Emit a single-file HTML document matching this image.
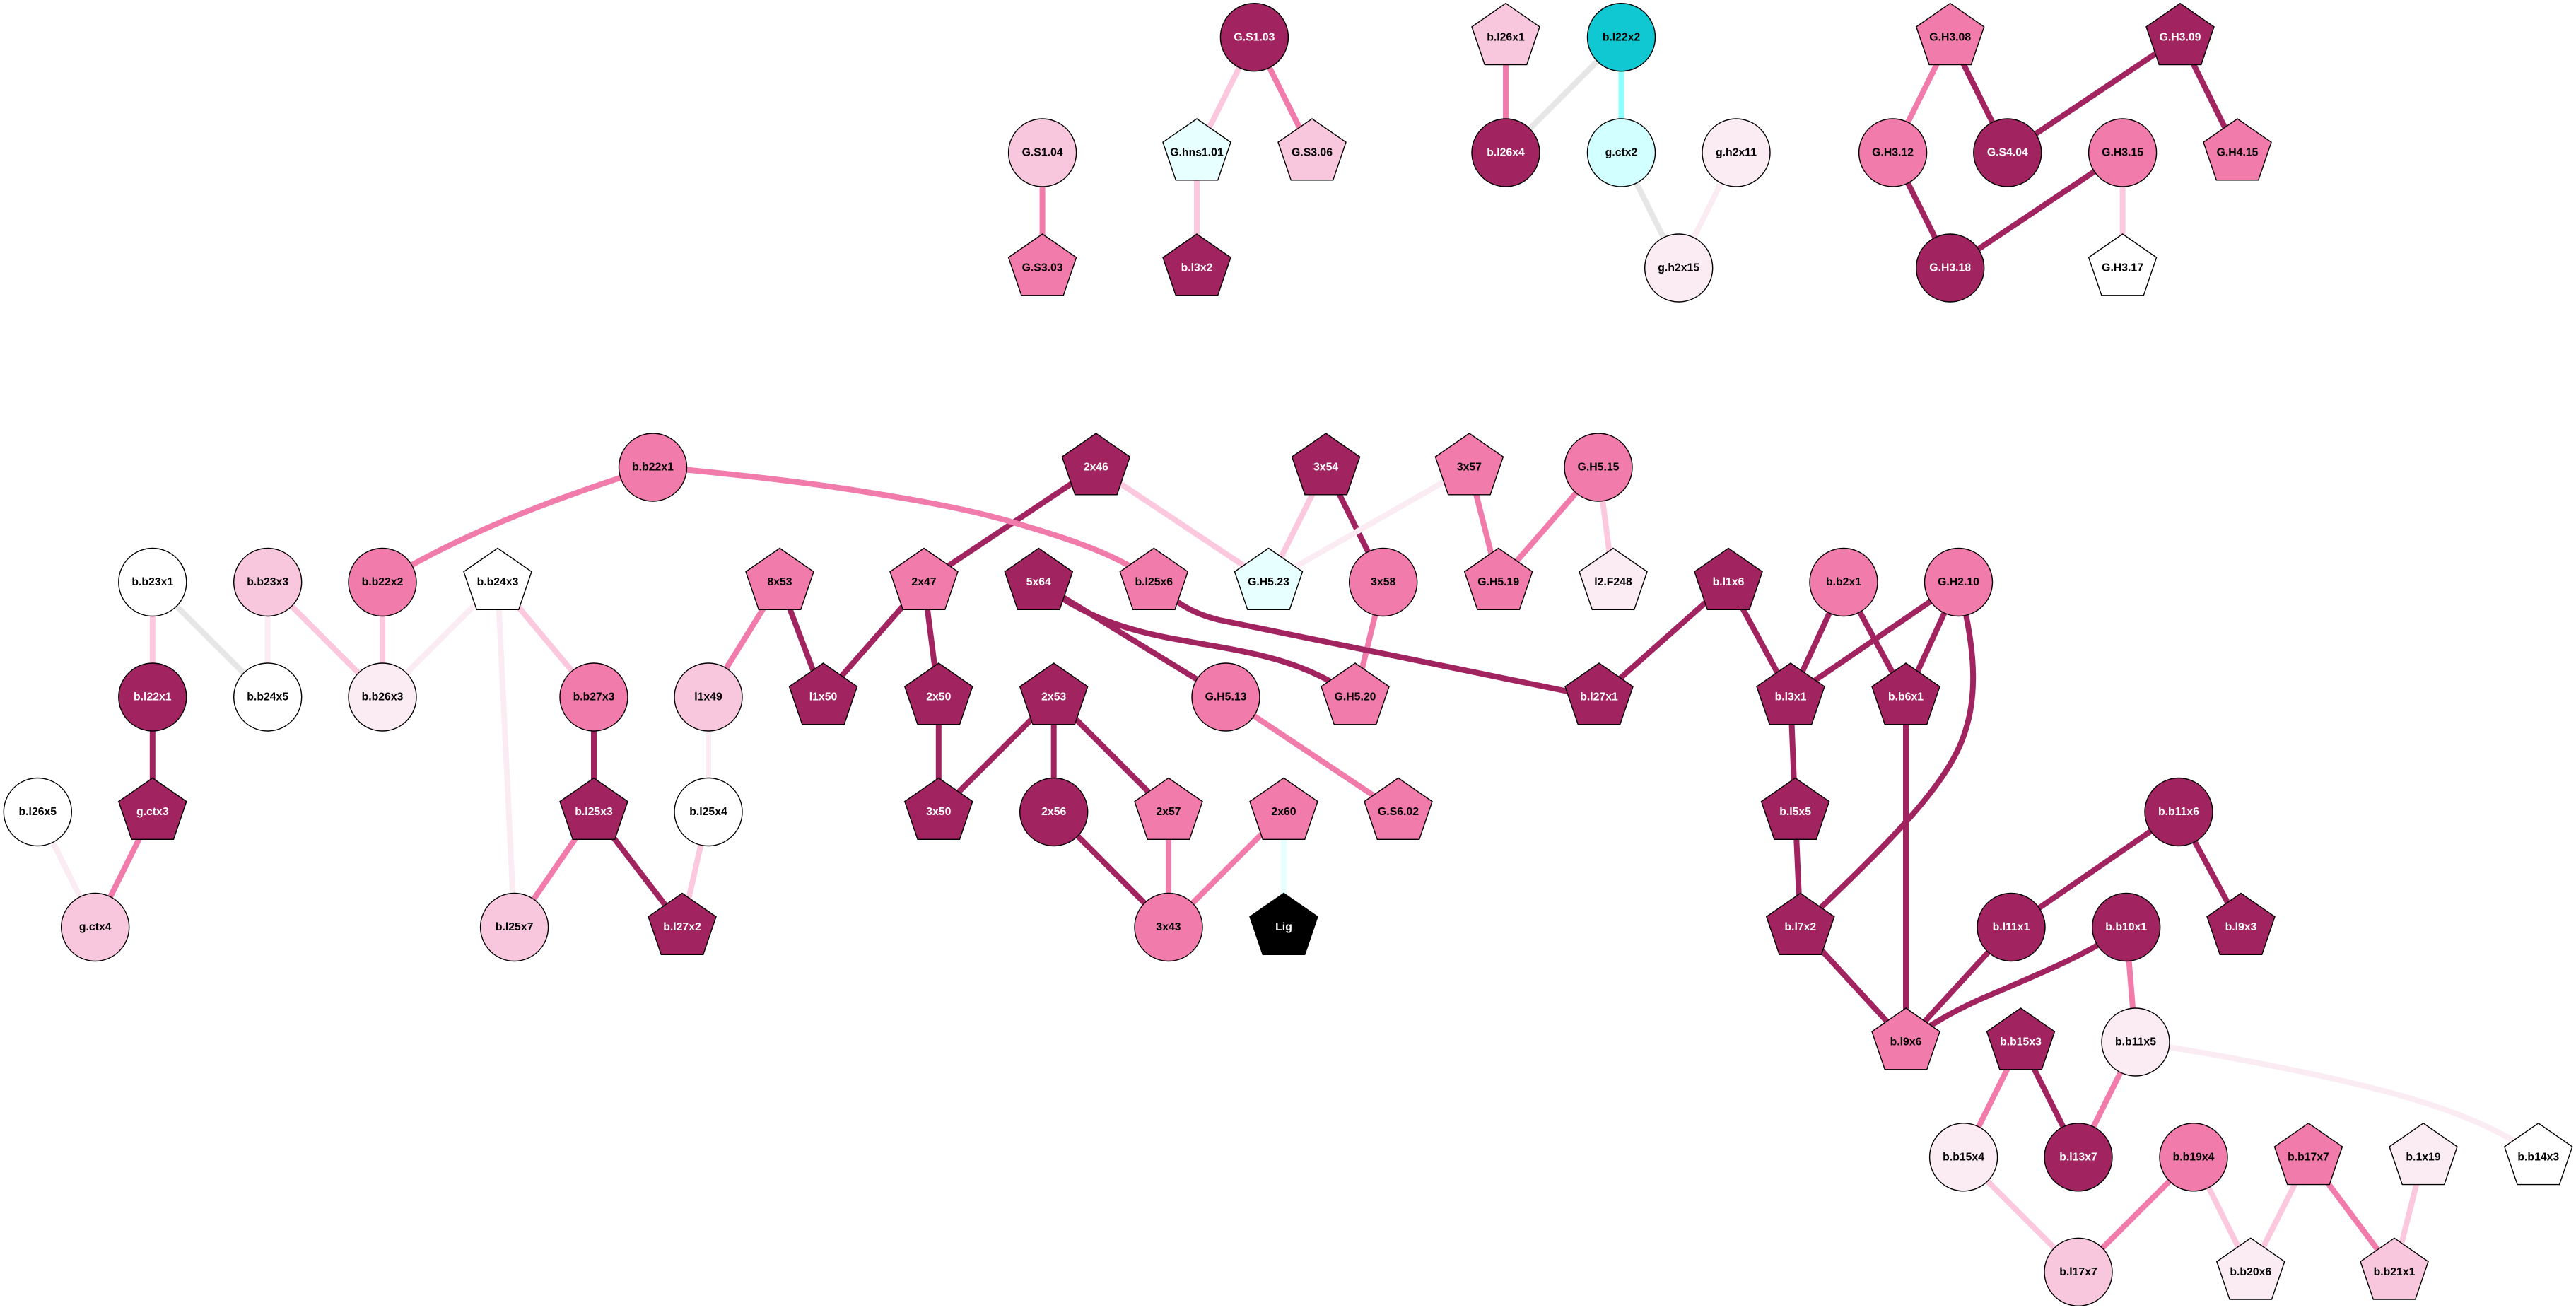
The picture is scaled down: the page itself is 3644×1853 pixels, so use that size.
<!DOCTYPE html>
<html><head><meta charset="utf-8"><style>
html,body{margin:0;padding:0;background:#fff}
svg{display:block}
path,line{fill:none;stroke-width:8}
.eD{stroke:#a12460}.eP{stroke:#f17bab}.eL{stroke:#fbc8de}.eV{stroke:#fbebf3}.eG{stroke:#e6e6e6}.eC{stroke:#8cffff}.eI{stroke:#e8ffff}
.n{stroke:#000;stroke-width:1.4}
.D{fill:#a12460}.P{fill:#f17bab}.L{fill:#f9c7dd}.V{fill:#fbebf3}.W{fill:#fff}.I{fill:#e8ffff}.C{fill:#d2ffff}.T{fill:#0fc8d2}.K{fill:#000}
text{font-family:"Liberation Sans",sans-serif;font-weight:bold;font-size:15.8px;text-anchor:middle;fill:#000}
text.w{fill:#fff}
</style></head><body>
<svg xmlns="http://www.w3.org/2000/svg" width="3644" height="1853" viewBox="0 0 3644 1853">
<defs>
<polygon id="p" points="0,-48 48,-14.8 29.7,38.8 -29.7,38.8 -48,-14.8"/>
</defs>
<rect width="3644" height="1853" fill="#fff"/>
<g>
<!-- top groups -->
<line class="eL" x1="1774.4" y1="52.7" x2="1693" y2="216"/>
<line class="eP" x1="1774.4" y1="52.7" x2="1856" y2="216"/>
<line class="eP" x1="1474.6" y1="216" x2="1474.6" y2="379"/>
<line class="eL" x1="1693" y1="216" x2="1693" y2="379"/>
<line class="eP" x1="2130" y1="52.7" x2="2130" y2="216"/>
<line class="eG" x1="2293.5" y1="52.7" x2="2130" y2="216"/>
<line class="eC" x1="2293.5" y1="52.7" x2="2293.5" y2="216"/>
<line class="eG" x1="2293.5" y1="216" x2="2374.7" y2="379"/>
<line class="eV" x1="2456" y1="216" x2="2374.7" y2="379"/>
<line class="eP" x1="2758.7" y1="52.7" x2="2677.6" y2="216"/>
<line class="eD" x1="2758.7" y1="52.7" x2="2839.8" y2="216"/>
<line class="eD" x1="3084" y1="52.7" x2="2839.8" y2="216"/>
<line class="eD" x1="3084" y1="52.7" x2="3165" y2="216"/>
<line class="eD" x1="2677.6" y1="216" x2="2758.7" y2="379"/>
<line class="eD" x1="3002.6" y1="216" x2="2758.7" y2="379"/>
<line class="eL" x1="3002.6" y1="216" x2="3002.6" y2="379"/>
<!-- left lower -->
<line class="eL" x1="215.8" y1="823.5" x2="215.8" y2="986"/>
<line class="eG" x1="215.8" y1="823.5" x2="378.7" y2="986"/>
<line class="eV" x1="378.7" y1="823.5" x2="378.7" y2="986"/>
<line class="eL" x1="378.7" y1="823.5" x2="541" y2="986"/>
<line class="eL" x1="541" y1="823.5" x2="541" y2="986"/>
<line class="eV" x1="704" y1="823.5" x2="541" y2="986"/>
<line class="eL" x1="704" y1="823.5" x2="840" y2="986"/>
<line class="eV" x1="704" y1="823.5" x2="727.6" y2="1311.5"/>
<line class="eD" x1="215.8" y1="986" x2="215.8" y2="1148.5"/>
<line class="eV" x1="53.3" y1="1148.5" x2="134.7" y2="1311.5"/>
<line class="eP" x1="215.8" y1="1148.5" x2="134.7" y2="1311.5"/>
<line class="eD" x1="840" y1="986" x2="840" y2="1148.5"/>
<line class="eP" x1="840" y1="1148.5" x2="727.6" y2="1311.5"/>
<line class="eD" x1="840" y1="1148.5" x2="965" y2="1311.5"/>
<line class="eL" x1="1002" y1="1148.5" x2="965" y2="1311.5"/>
<line class="eV" x1="1002" y1="986" x2="1002" y2="1148.5"/>
<line class="eP" x1="1103" y1="823.5" x2="1002" y2="986"/>
<line class="eD" x1="1103" y1="823.5" x2="1164.5" y2="986"/>
<line class="eD" x1="1307" y1="823.5" x2="1164.5" y2="986"/>
<line class="eD" x1="1550.4" y1="661" x2="1307" y2="823.5"/>
<line class="eL" x1="1550.4" y1="661" x2="1794.5" y2="823.5"/>
<line class="eD" x1="1307" y1="823.5" x2="1327.8" y2="986"/>
<line class="eD" x1="1327.8" y1="986" x2="1327.8" y2="1148.5"/>
<line class="eD" x1="1490.7" y1="986" x2="1327.8" y2="1148.5"/>
<line class="eD" x1="1490.7" y1="986" x2="1490.7" y2="1148.5"/>
<line class="eD" x1="1490.7" y1="986" x2="1653" y2="1148.5"/>
<line class="eD" x1="1490.7" y1="1148.5" x2="1653" y2="1311.5"/>
<line class="eP" x1="1653" y1="1148.5" x2="1653" y2="1311.5"/>
<line class="eP" x1="1816" y1="1148.5" x2="1653" y2="1311.5"/>
<line class="eI" x1="1816" y1="1148.5" x2="1816" y2="1311.5"/>
<line class="eP" x1="1734" y1="986" x2="1978" y2="1148.5"/>
<line class="eD" x1="1469.3" y1="823.5" x2="1734" y2="986"/>
<line class="eL" x1="1875.6" y1="661" x2="1794.5" y2="823.5"/>
<line class="eD" x1="1875.6" y1="661" x2="1956.7" y2="823.5"/>
<line class="eV" x1="2078.4" y1="661" x2="1794.5" y2="823.5"/>
<line class="eP" x1="2078.4" y1="661" x2="2119.7" y2="823.5"/>
<line class="eP" x1="2261" y1="661" x2="2119.7" y2="823.5"/>
<line class="eL" x1="2261" y1="661" x2="2282" y2="823.5"/>
<line class="eP" x1="1956.7" y1="823.5" x2="1917" y2="986"/>
<path class="eP" d="M923.5,661C800,700 660,750 541,823.5"/>
<path class="eP" d="M923.5,660C1010,668 1110,678 1200,692C1290,706 1370,720 1430,738C1480,753 1580,780 1632,823.5"/>
<path class="eD" d="M1632.3,823.5C1662,850 1680,866 1725,877L2262,987"/>
<path class="eD" d="M1469.3,823.5C1530,870 1590,892 1674,906C1760,922 1840,930 1917,986"/>
<!-- right lower -->
<line class="eD" x1="2445" y1="823.5" x2="2262" y2="986"/>
<line class="eD" x1="2445" y1="823.5" x2="2533" y2="986"/>
<line class="eD" x1="2608" y1="823.5" x2="2533" y2="986"/>
<line class="eD" x1="2608" y1="823.5" x2="2696" y2="986"/>
<line class="eD" x1="2770.5" y1="823.5" x2="2533" y2="986"/>
<line class="eD" x1="2770.5" y1="823.5" x2="2696" y2="986"/>
<path class="eD" d="M2770.5,823.5C2790,900 2800,970 2781,1031C2760,1105 2680,1185 2546.8,1311.5"/>
<line class="eD" x1="2533" y1="986" x2="2539.6" y2="1148.5"/>
<line class="eD" x1="2696" y1="986" x2="2696" y2="1474"/>
<line class="eD" x1="2539.6" y1="1148.5" x2="2546.8" y2="1311.5"/>
<line class="eD" x1="2546.8" y1="1311.5" x2="2696" y2="1474"/>
<line class="eD" x1="3082" y1="1148.5" x2="2845" y2="1311.5"/>
<line class="eD" x1="3082" y1="1148.5" x2="3170" y2="1311.5"/>
<line class="eD" x1="2845" y1="1311.5" x2="2696" y2="1474"/>
<path class="eD" d="M3007.7,1311.5C2950,1352 2890,1375 2800,1414C2760,1432 2730,1450 2696,1474"/>
<line class="eP" x1="3007.7" y1="1311.5" x2="3021" y2="1474"/>
<line class="eP" x1="2858.5" y1="1474" x2="2777.6" y2="1636.8"/>
<line class="eD" x1="2858.5" y1="1474" x2="2940" y2="1636.8"/>
<line class="eP" x1="3021" y1="1474" x2="2940" y2="1636.8"/>
<path class="eV" d="M3021,1474C3130,1490 3260,1515 3352,1538C3440,1560 3530,1590 3590.8,1636.8"/>
<line class="eL" x1="2777.6" y1="1636.8" x2="2940" y2="1799.3"/>
<line class="eP" x1="3103" y1="1636.8" x2="2940" y2="1799.3"/>
<line class="eL" x1="3103" y1="1636.8" x2="3183.8" y2="1799.3"/>
<line class="eL" x1="3265.5" y1="1636.8" x2="3183.8" y2="1799.3"/>
<line class="eP" x1="3265.5" y1="1636.8" x2="3387" y2="1799.3"/>
<line class="eL" x1="3428" y1="1636.8" x2="3387" y2="1799.3"/>
</g>
<g transform="translate(1774.4,52.7)"><circle r="48" class="n D"/><text class="w" y="4.7">G.S1.03</text></g>
<g transform="translate(1474.6,216)"><circle r="48" class="n L"/><text y="4.7">G.S1.04</text></g>
<g transform="translate(1693,216)"><use href="#p" class="n I"/><text y="4.7">G.hns1.01</text></g>
<g transform="translate(1856,216)"><use href="#p" class="n L"/><text y="4.7">G.S3.06</text></g>
<g transform="translate(1474.6,379)"><use href="#p" class="n P"/><text y="4.7">G.S3.03</text></g>
<g transform="translate(1693,379)"><use href="#p" class="n D"/><text class="w" y="4.7">b.l3x2</text></g>
<g transform="translate(2130,52.7)"><use href="#p" class="n L"/><text y="4.7">b.l26x1</text></g>
<g transform="translate(2293.5,52.7)"><circle r="48" class="n T"/><text y="4.7">b.l22x2</text></g>
<g transform="translate(2130,216)"><circle r="48" class="n D"/><text class="w" y="4.7">b.l26x4</text></g>
<g transform="translate(2293.5,216)"><circle r="48" class="n C"/><text y="4.7">g.ctx2</text></g>
<g transform="translate(2456,216)"><circle r="48" class="n V"/><text y="4.7">g.h2x11</text></g>
<g transform="translate(2374.7,379)"><circle r="48" class="n V"/><text y="4.7">g.h2x15</text></g>
<g transform="translate(2758.7,52.7)"><use href="#p" class="n P"/><text y="4.7">G.H3.08</text></g>
<g transform="translate(3084,52.7)"><use href="#p" class="n D"/><text class="w" y="4.7">G.H3.09</text></g>
<g transform="translate(2677.6,216)"><circle r="48" class="n P"/><text y="4.7">G.H3.12</text></g>
<g transform="translate(2839.8,216)"><circle r="48" class="n D"/><text class="w" y="4.7">G.S4.04</text></g>
<g transform="translate(3002.6,216)"><circle r="48" class="n P"/><text y="4.7">G.H3.15</text></g>
<g transform="translate(3165,216)"><use href="#p" class="n P"/><text y="4.7">G.H4.15</text></g>
<g transform="translate(2758.7,379)"><circle r="48" class="n D"/><text class="w" y="4.7">G.H3.18</text></g>
<g transform="translate(3002.6,379)"><use href="#p" class="n W"/><text y="4.7">G.H3.17</text></g>

<g transform="translate(923.5,661)"><circle r="48" class="n P"/><text y="4.7">b.b22x1</text></g>
<g transform="translate(1550.4,661)"><use href="#p" class="n D"/><text class="w" y="4.7">2x46</text></g>
<g transform="translate(1875.6,661)"><use href="#p" class="n D"/><text class="w" y="4.7">3x54</text></g>
<g transform="translate(2078.4,661)"><use href="#p" class="n P"/><text y="4.7">3x57</text></g>
<g transform="translate(2261,661)"><circle r="48" class="n P"/><text y="4.7">G.H5.15</text></g>

<g transform="translate(215.8,823.5)"><circle r="48" class="n W"/><text y="4.7">b.b23x1</text></g>
<g transform="translate(378.7,823.5)"><circle r="48" class="n L"/><text y="4.7">b.b23x3</text></g>
<g transform="translate(541,823.5)"><circle r="48" class="n P"/><text y="4.7">b.b22x2</text></g>
<g transform="translate(704,823.5)"><use href="#p" class="n W"/><text y="4.7">b.b24x3</text></g>
<g transform="translate(1103,823.5)"><use href="#p" class="n P"/><text y="4.7">8x53</text></g>
<g transform="translate(1307,823.5)"><use href="#p" class="n P"/><text y="4.7">2x47</text></g>
<g transform="translate(1469.3,823.5)"><use href="#p" class="n D"/><text class="w" y="4.7">5x64</text></g>
<g transform="translate(1632.3,823.5)"><use href="#p" class="n P"/><text y="4.7">b.l25x6</text></g>
<g transform="translate(1794.5,823.5)"><use href="#p" class="n I"/><text y="4.7">G.H5.23</text></g>
<g transform="translate(1956.7,823.5)"><circle r="48" class="n P"/><text y="4.7">3x58</text></g>
<g transform="translate(2119.7,823.5)"><use href="#p" class="n P"/><text y="4.7">G.H5.19</text></g>
<g transform="translate(2282,823.5)"><use href="#p" class="n V"/><text y="4.7">l2.F248</text></g>
<g transform="translate(2445,823.5)"><use href="#p" class="n D"/><text class="w" y="4.7">b.l1x6</text></g>
<g transform="translate(2608,823.5)"><circle r="48" class="n P"/><text y="4.7">b.b2x1</text></g>
<g transform="translate(2770.5,823.5)"><circle r="48" class="n P"/><text y="4.7">G.H2.10</text></g>

<g transform="translate(215.8,986)"><circle r="48" class="n D"/><text class="w" y="4.7">b.l22x1</text></g>
<g transform="translate(378.7,986)"><circle r="48" class="n W"/><text y="4.7">b.b24x5</text></g>
<g transform="translate(541,986)"><circle r="48" class="n V"/><text y="4.7">b.b26x3</text></g>
<g transform="translate(840,986)"><circle r="48" class="n P"/><text y="4.7">b.b27x3</text></g>
<g transform="translate(1002,986)"><circle r="48" class="n L"/><text y="4.7">l1x49</text></g>
<g transform="translate(1164.5,986)"><use href="#p" class="n D"/><text class="w" y="4.7">l1x50</text></g>
<g transform="translate(1327.8,986)"><use href="#p" class="n D"/><text class="w" y="4.7">2x50</text></g>
<g transform="translate(1490.7,986)"><use href="#p" class="n D"/><text class="w" y="4.7">2x53</text></g>
<g transform="translate(1734,986)"><circle r="48" class="n P"/><text y="4.7">G.H5.13</text></g>
<g transform="translate(1917,986)"><use href="#p" class="n P"/><text y="4.7">G.H5.20</text></g>
<g transform="translate(2262,986)"><use href="#p" class="n D"/><text class="w" y="4.7">b.l27x1</text></g>
<g transform="translate(2533,986)"><use href="#p" class="n D"/><text class="w" y="4.7">b.l3x1</text></g>
<g transform="translate(2696,986)"><use href="#p" class="n D"/><text class="w" y="4.7">b.b6x1</text></g>

<g transform="translate(53.3,1148.5)"><circle r="48" class="n W"/><text y="4.7">b.l26x5</text></g>
<g transform="translate(215.8,1148.5)"><use href="#p" class="n D"/><text class="w" y="4.7">g.ctx3</text></g>
<g transform="translate(840,1148.5)"><use href="#p" class="n D"/><text class="w" y="4.7">b.l25x3</text></g>
<g transform="translate(1002,1148.5)"><circle r="48" class="n W"/><text y="4.7">b.l25x4</text></g>
<g transform="translate(1327.8,1148.5)"><use href="#p" class="n D"/><text class="w" y="4.7">3x50</text></g>
<g transform="translate(1490.7,1148.5)"><circle r="48" class="n D"/><text class="w" y="4.7">2x56</text></g>
<g transform="translate(1653,1148.5)"><use href="#p" class="n P"/><text y="4.7">2x57</text></g>
<g transform="translate(1816,1148.5)"><use href="#p" class="n P"/><text y="4.7">2x60</text></g>
<g transform="translate(1978,1148.5)"><use href="#p" class="n P"/><text y="4.7">G.S6.02</text></g>
<g transform="translate(2539.6,1148.5)"><use href="#p" class="n D"/><text class="w" y="4.7">b.l5x5</text></g>
<g transform="translate(3082,1148.5)"><circle r="48" class="n D"/><text class="w" y="4.7">b.b11x6</text></g>

<g transform="translate(134.7,1311.5)"><circle r="48" class="n L"/><text y="4.7">g.ctx4</text></g>
<g transform="translate(727.6,1311.5)"><circle r="48" class="n L"/><text y="4.7">b.l25x7</text></g>
<g transform="translate(965,1311.5)"><use href="#p" class="n D"/><text class="w" y="4.7">b.l27x2</text></g>
<g transform="translate(1653,1311.5)"><circle r="48" class="n P"/><text y="4.7">3x43</text></g>
<g transform="translate(1816,1311.5)"><use href="#p" class="n K"/><text class="w" y="4.7">Lig</text></g>
<g transform="translate(2546.8,1311.5)"><use href="#p" class="n D"/><text class="w" y="4.7">b.l7x2</text></g>
<g transform="translate(2845,1311.5)"><circle r="48" class="n D"/><text class="w" y="4.7">b.l11x1</text></g>
<g transform="translate(3007.7,1311.5)"><circle r="48" class="n D"/><text class="w" y="4.7">b.b10x1</text></g>
<g transform="translate(3170,1311.5)"><use href="#p" class="n D"/><text class="w" y="4.7">b.l9x3</text></g>

<g transform="translate(2696,1474)"><use href="#p" class="n P"/><text y="4.7">b.l9x6</text></g>
<g transform="translate(2858.5,1474)"><use href="#p" class="n D"/><text class="w" y="4.7">b.b15x3</text></g>
<g transform="translate(3021,1474)"><circle r="48" class="n V"/><text y="4.7">b.b11x5</text></g>

<g transform="translate(2777.6,1636.8)"><circle r="48" class="n V"/><text y="4.7">b.b15x4</text></g>
<g transform="translate(2940,1636.8)"><circle r="48" class="n D"/><text class="w" y="4.7">b.l13x7</text></g>
<g transform="translate(3103,1636.8)"><circle r="48" class="n P"/><text y="4.7">b.b19x4</text></g>
<g transform="translate(3265.5,1636.8)"><use href="#p" class="n P"/><text y="4.7">b.b17x7</text></g>
<g transform="translate(3428,1636.8)"><use href="#p" class="n V"/><text y="4.7">b.1x19</text></g>
<g transform="translate(3590.8,1636.8)"><use href="#p" class="n W"/><text y="4.7">b.b14x3</text></g>

<g transform="translate(2940,1799.3)"><circle r="48" class="n L"/><text y="4.7">b.l17x7</text></g>
<g transform="translate(3183.8,1799.3)"><use href="#p" class="n V"/><text y="4.7">b.b20x6</text></g>
<g transform="translate(3387,1799.3)"><use href="#p" class="n L"/><text y="4.7">b.b21x1</text></g>
</svg>
</body></html>
